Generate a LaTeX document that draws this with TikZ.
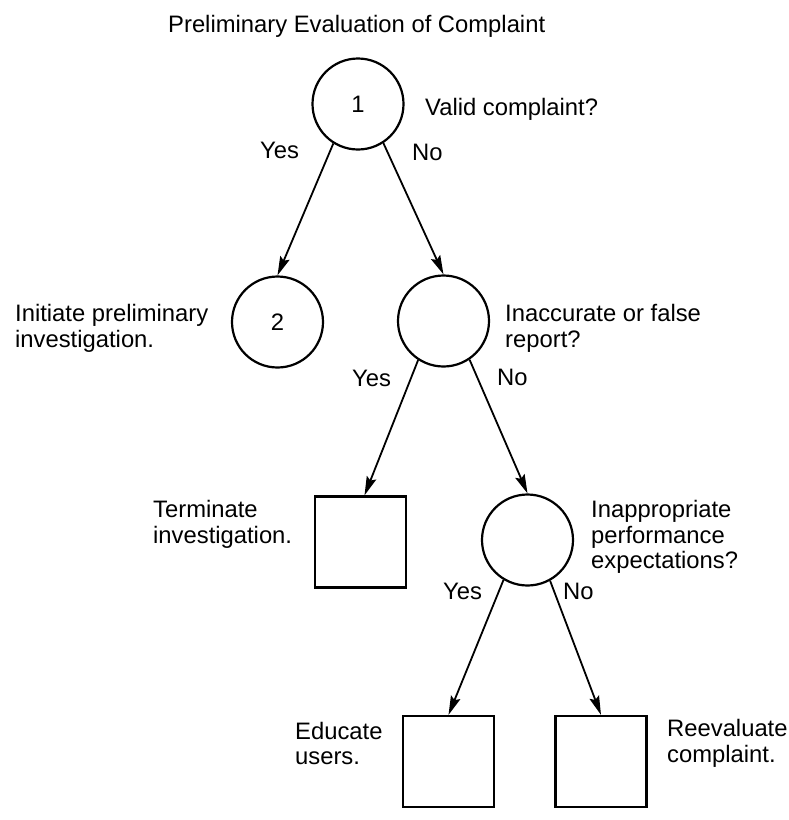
\documentclass[tikz,border=0pt]{standalone}
\usepackage{fontspec}
\setmainfont{Liberation Sans}
\usetikzlibrary{arrows.meta}
\begin{document}
\begin{tikzpicture}[x=1pt,y=-1pt,
  dec/.style={circle,draw,line width=2.2pt,minimum size=91pt,inner sep=0pt,font=\fontsize{23.8}{25.5}\selectfont},
  term/.style={rectangle,draw,line width=2.2pt,minimum size=91pt,inner sep=0pt},
  lbl/.style={inner sep=0pt,align=left,anchor=west,font=\fontsize{23.8}{25.5}\selectfont},
  edge/.style={line width=1.8pt,-{Stealth[length=19pt,width=10pt,inset=3pt]}}]
\useasboundingbox (0,0) rectangle (789,820);
% nodes
\node[dec] (c1) at (358,104) {1};
\node[dec] (c2) at (277.5,322) {2};
\node[dec] (c3) at (443.5,321) {};
\node[term] (t1) at (360.5,542) {};
\node[dec] (c4) at (527.5,540) {};
\node[term] (t2) at (448.5,761.5) {};
\node[term] (t3) at (601,761.5) {};
% labels
\node[lbl] (title) at (168,26) {Preliminary Evaluation of Complaint};
\node[lbl] (q1) at (425,109) {Valid complaint?};
\node[lbl] (y1) at (260,150) {Yes};
\node[lbl] (n1) at (412,152) {No};
\node[lbl] (a2) at (15,328.5) {Initiate preliminary\\investigation.};
\node[lbl] (q3) at (505,328.5) {Inaccurate or false\\report?};
\node[lbl] (y3) at (352,378) {Yes};
\node[lbl] (n3) at (497,377) {No};
\node[lbl] (a4) at (153,524.5) {Terminate\\investigation.};
\node[lbl] (q5) at (591,537) {Inappropriate\\performance\\expectations?};
\node[lbl] (y5) at (443,591) {Yes};
\node[lbl] (n5) at (563,591) {No};
\node[lbl] (a6) at (295,743.5) {Educate\\users.};
\node[lbl] (a7) at (667,743.5) {Reevaluate\\complaint.};
% edges
\draw[edge] (c1.-122) -- (c2.north);
\draw[edge] (c1.-57) -- (c3.north);
\draw[edge] (c3.-123) -- ([xshift=4pt]t1.north);
\draw[edge] (c3.-56) -- (c4.north);
\draw[edge] (c4.-121) -- (t2.north);
\draw[edge] (c4.-61) -- (t3.north);
\end{tikzpicture}
\end{document}
